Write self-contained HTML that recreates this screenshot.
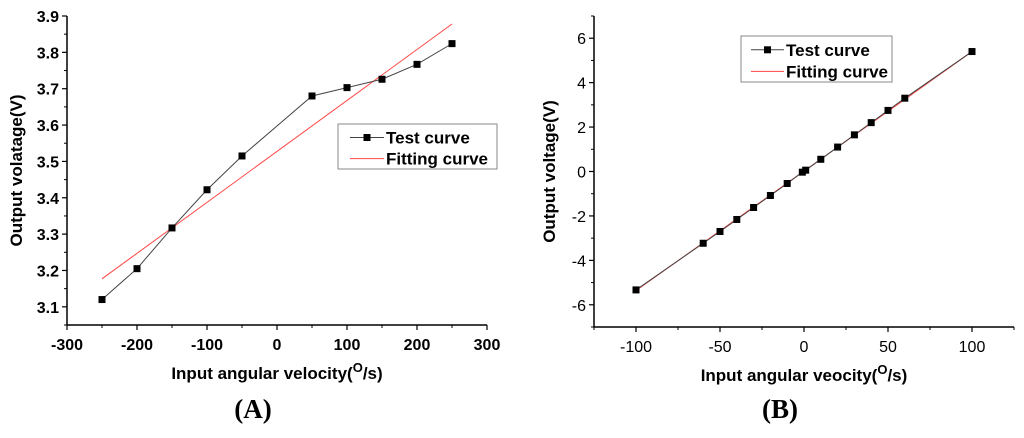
<!DOCTYPE html>
<html><head><meta charset="utf-8"><style>
body{margin:0;background:#fff}
svg text{font-family:"Liberation Sans",Arial,sans-serif}
</style></head><body>
<svg id="s" width="1024" height="433" xmlns="http://www.w3.org/2000/svg">
<g id="A"></g>
<g id="B"></g>
<text x="253" y="418" font-size="27" font-weight="bold" text-anchor="middle" style="font-family:'Liberation Serif',serif">(A)</text>
<text x="780" y="418" font-size="27" font-weight="bold" text-anchor="middle" style="font-family:'Liberation Serif',serif">(B)</text>
</svg>
<script>
const aX=[-250,-200,-150,-100,-50,50,100,150,200,250];
const aY=[3.12,3.205,3.317,3.422,3.515,3.68,3.703,3.726,3.767,3.824];
const aFitX=[-250,250];
const aFitY=[3.177,3.878];
const aXTicks=[-300,-200,-100,0,100,200,300];
const aYTicks=[3.1,3.2,3.3,3.4,3.5,3.6,3.7,3.8,3.9];
const bX=[-100,-60,-50,-40,-30,-20,-10,-1,1,10,20,30,40,50,60,100];
const bY=[-5.33,-3.23,-2.7,-2.16,-1.62,-1.08,-0.54,-0.03,0.06,0.55,1.1,1.65,2.2,2.75,3.3,5.4];
const bFitX=[-100,100];
const bFitY=[-5.36,5.4];
const bXTicks=[-100,-50,0,50,100];
const bYTicks=[-6,-4,-2,0,2,4,6];
const NS="http://www.w3.org/2000/svg";
function mk(p,t,a){const e=document.createElementNS(NS,t);for(const k in a)e.setAttribute(k,a[k]);p.appendChild(e);return e;}
function chart(g,o){
 const sx=v=>o.l+(v-o.x0)/(o.x1-o.x0)*(o.r-o.l);
 const sy=v=>o.b-(v-o.y0)/(o.y1-o.y0)*(o.b-o.t);
 const fw=o.bold?'bold':'normal';
 let e=mk(g,'path',{d:`M${o.l},${o.t}V${o.b}H${o.r}`,fill:'none',stroke:'#000','stroke-width':1.5});
 
 
 o.xt.forEach(v=>{const x=sx(v);
  e=mk(g,'line',{x1:x,x2:x,y1:o.b,y2:o.b+5,stroke:'#000','stroke-width':1.2});
  
  
  e=mk(g,'text',{x:x,y:o.b+25,'font-size':16,'font-weight':fw,'text-anchor':'middle'});e.textContent=v;
  
  });
 for(let i=0;i<o.xt.length-1;i++){const x=sx((o.xt[i]+o.xt[i+1])/2);mk(g,'line',{x1:x,x2:x,y1:o.b,y2:o.b+3,stroke:'#000'});}
 if(o.xextra)o.xextra.forEach(v=>{const x=sx(v);mk(g,'line',{x1:x,x2:x,y1:o.b,y2:o.b+3,stroke:'#000'});});
 o.yt.forEach(v=>{const y=sy(v);
  e=mk(g,'line',{x1:o.l-5,x2:o.l,y1:y,y2:y,stroke:'#000','stroke-width':1.2});
  
  
  e=mk(g,'text',{x:o.l-8,y:y+6,'font-size':16,'font-weight':fw,'text-anchor':'end'});e.textContent=o.yfmt(v);
  
  });
 for(let i=0;i<o.yt.length-1;i++){const y=sy((o.yt[i]+o.yt[i+1])/2);mk(g,'line',{x1:o.l-3,x2:o.l,y1:y,y2:y,stroke:'#000'});}
 if(o.yextra)o.yextra.forEach(v=>{const y=sy(v);mk(g,'line',{x1:o.l-3,x2:o.l,y1:y,y2:y,stroke:'#000'});});
 e=mk(g,'polyline',{points:o.fx.map((v,i)=>sx(v)+','+sy(o.fy[i])).join(' '),fill:'none',stroke:'#f44','stroke-width':1});
 
 
 e=mk(g,'polyline',{points:o.dx.map((v,i)=>sx(v)+','+sy(o.dy[i])).join(' '),fill:'none',stroke:'#444','stroke-width':1});
 
 
 o.dx.forEach((v,i)=>{e=mk(g,'rect',{x:sx(v)-3.5,y:sy(o.dy[i])-3.5,width:7,height:7,fill:'#000'});
  
  });
 e=mk(g,'text',{x:(o.l+o.r)/2,y:o.b+54,'font-size':17,'font-weight':'bold','text-anchor':'middle'});
 e.innerHTML=o.xlab+'(<tspan dy="-7" font-size="13">O</tspan><tspan dy="7">/s)</tspan>';
 
 
 e=mk(g,'text',{x:0,y:0,'font-size':17,'font-weight':'bold','text-anchor':'middle',transform:`translate(${o.ylx},${(o.t+o.b)/2}) rotate(-90)`});e.textContent=o.ylab;
 
 
 const L=o.leg;
 e=mk(g,'rect',{x:L.x,y:L.y,width:L.w,height:L.h,fill:'#fff',stroke:'#888','stroke-width':1});
 
 
 const r1=L.y+L.h*0.3,r2=L.y+L.h*0.77;
 mk(g,'line',{x1:L.x+L.lx,x2:L.x+L.lx+L.ll,y1:r1,y2:r1,stroke:'#444'});
 mk(g,'rect',{x:L.x+L.lx+L.ll/2-3.5,y:r1-3.5,width:7,height:7,fill:'#000'});
 mk(g,'line',{x1:L.x+L.lx,x2:L.x+L.lx+L.ll,y1:r2,y2:r2,stroke:'#f44'});
 e=mk(g,'text',{x:L.x+L.lx+L.ll+2,y:r1+6,'font-size':17,'font-weight':'bold'});e.textContent='Test curve';
 
 
 e=mk(g,'text',{x:L.x+L.lx+L.ll+2,y:r2+6,'font-size':17,'font-weight':'bold'});e.textContent='Fitting curve';
 
 
}
chart(document.getElementById('A'),{l:67,r:487,t:16,b:325,x0:-300,x1:300,y0:3.05,y1:3.9,xt:aXTicks,yt:aYTicks,yextra:[3.05],
 yfmt:v=>v.toFixed(1),bold:true,fx:aFitX,fy:aFitY,dx:aX,dy:aY,xlab:'Input angular velocity',ylab:'Output volatage(V)',ylx:22,
 leg:{x:338,y:124,w:159,h:45,lx:12,ll:34}});
chart(document.getElementById('B'),{l:594,r:1014,t:16,b:327,x0:-125,x1:125,y0:-7,y1:7,xt:bXTicks,yt:bYTicks,xextra:[-125,125],yextra:[-7,7],
 yfmt:v=>String(v),bold:false,fx:bFitX,fy:bFitY,dx:bX,dy:bY,xlab:'Input angular veocity',ylab:'Output voltage(V)',ylx:555,
 leg:{x:741,y:36,w:151,h:46,lx:10,ll:33}});
</script>
</body></html>
